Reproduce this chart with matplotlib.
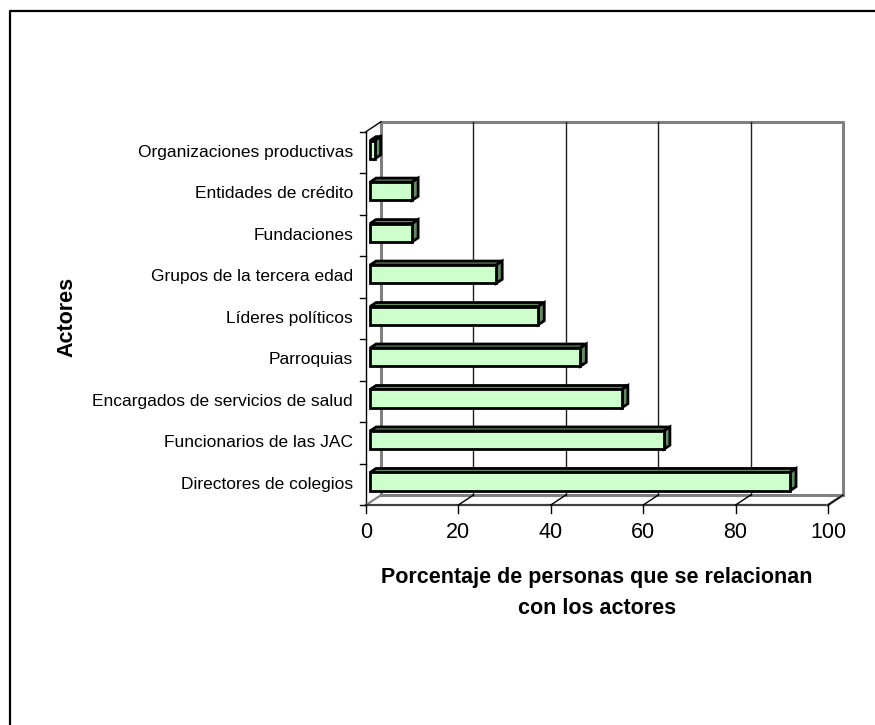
import matplotlib
matplotlib.use("Agg")
import matplotlib.pyplot as plt
from matplotlib.patches import Polygon
from matplotlib.lines import Line2D

plt.rcParams['font.family'] = ['Liberation Sans', 'DejaVu Sans']

actores = ['Directores de colegios', 'Funcionarios de las JAC',
           'Encargados de servicios de salud', 'Parroquias',
           'Líderes políticos', 'Grupos de la tercera edad',
           'Fundaciones', 'Entidades de crédito', 'Organizaciones productivas']
porcentaje = [90.9, 63.6, 54.5, 45.5, 36.4, 27.3, 9.1, 9.1, 1.0]
ticks_x = [0, 20, 40, 60, 80, 100]

# 3d look: depth offset of the back wall, bar offset and bar depth (data units)
dx, dy = 3.25, 0.24
fx, fy = 0.88, 0.065
bx, by = 1.3, 0.096
h = 0.44
n = len(actores)

fig = plt.figure(figsize=(8.75, 7.25), dpi=100)
ax = fig.add_axes([0, 0, 1, 1])
ax.set_xlim(-366 / 4.62, (875 - 366) / 4.62)
ax.set_ylim((505 - 725) / 41.48, 505 / 41.48)
ax.axis('off')

gray = '#808080'
# back wall
ax.plot([dx, dx, 100 + dx, 100 + dx], [dy, n + dy, n + dy, dy], color=gray, lw=2.2, zorder=1)
ax.plot([dx, 100 + dx], [dy, dy], color=gray, lw=2.2, zorder=1)
# left wall and floor
ax.plot([0, 0], [0, n], color='black', lw=1, zorder=2)
ax.plot([0, dx], [n, n + dy], color='black', lw=1, zorder=2)
ax.plot([0, dx], [0, dy], color=gray, lw=1.5, zorder=2)
ax.plot([0, 100], [0, 0], color='#404040', lw=1.6, zorder=2)
ax.plot([100, 100 + dx], [0, dy], color=gray, lw=2, zorder=2)

for t in ticks_x:
    if 0 < t < 100:
        ax.plot([t + dx, t + dx], [dy, n + dy], color='#202020', lw=1, zorder=1)
    if t > 0:
        ax.plot([t, t + dx], [0, dy], color='black', lw=1, zorder=2)
    ax.plot([t, t], [0, -0.19], color='black', lw=1, zorder=2)
    ax.text(t, -0.675, str(t), ha='center', va='center', fontsize=15.5)

for i in range(n + 1):
    ax.plot([-1.4, 0], [i, i], color='black', lw=1, zorder=2)

for i, (name, v) in enumerate(zip(actores, porcentaje)):
    y0 = i + 0.5 + fy - h / 2
    y1 = y0 + h
    ax.barh(i + 0.5 + fy, v, left=fx, height=h, color='#CCFFCC',
            edgecolor='black', linewidth=2, zorder=4)
    top = [(fx, y1), (fx + v, y1), (fx + v + bx, y1 + by), (fx + bx, y1 + by)]
    side = [(fx + v, y0), (fx + v, y1), (fx + v + bx, y1 + by), (fx + v + bx, y0 + by)]
    for pts in (top, side):
        ax.add_patch(Polygon(pts, closed=True, facecolor='#638A63',
                             edgecolor='black', linewidth=2, zorder=3))
    ax.text(-2.81, i + 0.5, name, ha='right', va='center', fontsize=12.5)

ax.text(50, (505 - 578) / 41.48, 'Porcentaje de personas que se relacionan',
        ha='center', va='center', fontsize=15.5, fontweight='bold')
ax.text(50, (505 - 608) / 41.48, 'con los actores',
        ha='center', va='center', fontsize=15.5, fontweight='bold')
ax.text(-64.8, 4.53, 'Actores', rotation=90, ha='center', va='center',
        fontsize=15.5, fontweight='bold')

# chart border (only top and left visible)
fig.add_artist(Line2D([10 / 875, 10 / 875, 1], [0, 1 - 11 / 725, 1 - 11 / 725],
                      transform=fig.transFigure, color='black', lw=1.6))

fig.savefig('out.png', dpi=100)
